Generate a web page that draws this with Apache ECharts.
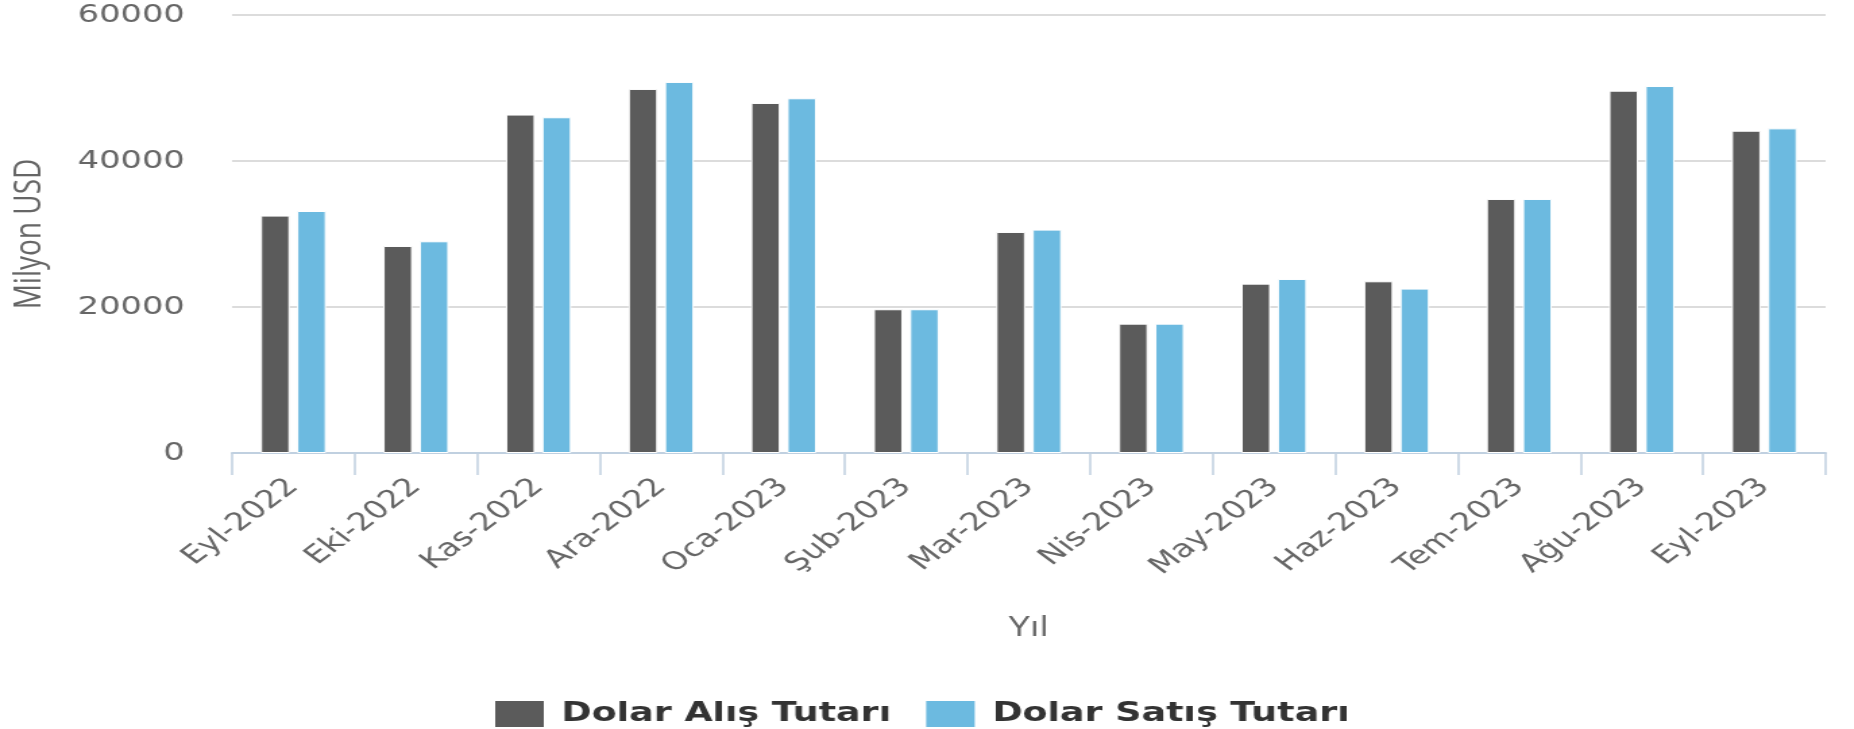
<!DOCTYPE html>
<html>
<head>
<meta charset="utf-8">
<title>Dolar Alış / Satış Tutarı</title>
<script src="https://cdn.jsdelivr.net/npm/echarts@6/dist/echarts.min.js"></script>
<style>
  html, body { margin: 0; padding: 0; background: #fff; overflow: hidden; }
  /* the source picture is stretched sideways, so the chart is drawn narrow and widened */
  #container { width: 1374px; height: 729px; transform: scaleX(1.3493); transform-origin: 0 0; }
</style>
</head>
<body>
<div id="container"></div>
<script>
var months = ['Eyl-2022', 'Eki-2022', 'Kas-2022', 'Ara-2022', 'Oca-2023', 'Şub-2023', 'Mar-2023',
  'Nis-2023', 'May-2023', 'Haz-2023', 'Tem-2023', 'Ağu-2023', 'Eyl-2023'];

// Milyon USD
var alisTutari = [32520, 28360, 46360, 49870, 47950, 19690, 30280, 17720, 23200, 23520, 34800, 49630, 44150];
var satisTutari = [33150, 29000, 45990, 50830, 48590, 19690, 30600, 17720, 23840, 22520, 34800, 50270, 44470];

var yTicks = [0, 20000, 40000, 60000];

var labelFont = 'DejaVu Sans';
var titleFont = 'Open Sans';

var chart = echarts.init(document.getElementById('container'));

var option = {
  backgroundColor: '#fff',
  animation: false,
  grid: { left: 171, right: 21, top: 15, bottom: 276 },
  legend: {
    left: 360,
    top: 694,
    icon: 'rect',
    itemWidth: 38,
    itemHeight: 28,
    itemGap: 24,
    textStyle: { fontFamily: labelFont, fontWeight: 'bold', fontSize: 27, color: '#333', padding: [0, 0, 0, 7] },
    data: ['Dolar Alış Tutarı', 'Dolar Satış Tutarı']
  },
  xAxis: {
    type: 'category',
    data: months,
    name: 'Yıl',
    nameLocation: 'middle',
    nameGap: 161,
    nameTextStyle: { fontFamily: titleFont, fontSize: 28, color: '#666' },
    axisLine: { lineStyle: { color: '#c0d0e0', width: 2 } },
    axisTick: { show: true, length: 22, lineStyle: { color: '#c0d0e0', width: 1.5 } },
    axisLabel: { interval: 0, rotate: 45, margin: 30, fontFamily: labelFont, fontSize: 25, color: '#666' }
  },
  yAxis: {
    type: 'value',
    min: yTicks[0],
    max: yTicks[yTicks.length - 1],
    interval: yTicks[1] - yTicks[0],
    name: 'Milyon USD',
    nameLocation: 'middle',
    nameGap: 136,
    nameTextStyle: { fontFamily: titleFont, fontSize: 28, color: '#666' },
    axisLine: { show: false },
    axisTick: { show: false },
    axisLabel: {
      margin: 35, fontFamily: labelFont, fontSize: 25, color: '#666',
      formatter: function (v) { return String(v); }
    },
    splitLine: { lineStyle: { color: '#dcdcdc', width: 2 } }
  },
  series: [
    {
      name: 'Dolar Alış Tutarı',
      type: 'bar',
      data: alisTutari,
      barWidth: 21.5,
      barGap: '25%',
      itemStyle: { color: '#5b5b5b', borderColor: '#fff', borderWidth: 1 }
    },
    {
      name: 'Dolar Satış Tutarı',
      type: 'bar',
      data: satisTutari,
      barWidth: 21.5,
      barGap: '25%',
      itemStyle: { color: '#6cbae0', borderColor: '#fff', borderWidth: 1 }
    }
  ]
};

chart.setOption(option);
</script>
</body>
</html>
